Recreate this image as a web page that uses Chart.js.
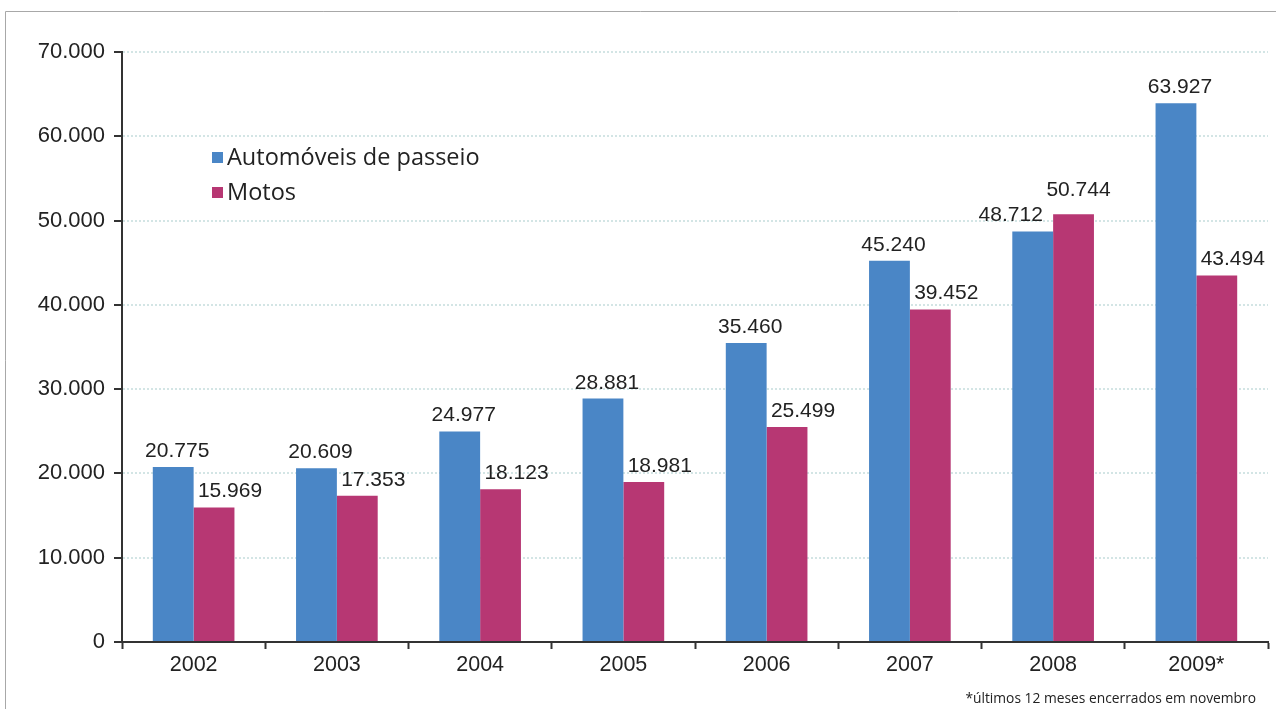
<!DOCTYPE html>
<html><head><meta charset="utf-8">
<script src="https://cdn.jsdelivr.net/npm/chart.js@4/dist/chart.umd.min.js"></script>
<style>html,body{margin:0;padding:0;background:#fff;}#wrap{position:relative;width:1276px;height:709px;}</style>
</head><body><div id="wrap"><canvas id="c" width="1276" height="709"></canvas></div>
<script>
const categories = ['2002','2003','2004','2005','2006','2007','2008','2009*'];
const autoValues = [20775, 20609, 24977, 28881, 35460, 45240, 48712, 63927];
const motoValues = [15969, 17353, 18123, 18981, 25499, 39452, 50744, 43494];
const yTicks = [0,10000,20000,30000,40000,50000,60000,70000];
const seriesNames = ['Automóveis de passeio','Motos'];
const footnote = '*últimos 12 meses encerrados em novembro';

function fmt(v){return String(v).replace(/\B(?=(\d{3})+(?!\d))/g,'.');}

const colors = ['#4a86c6','#b73773'];
const labelDx = [4, 16];

const decor = {
  id:'decor',
  beforeDraw(chart){
    const ctx = chart.ctx;
    ctx.save();
    ctx.strokeStyle='#a8a8a8'; ctx.lineWidth=1;
    ctx.beginPath(); ctx.moveTo(5.5,709); ctx.lineTo(5.5,11.5); ctx.lineTo(1276,11.5); ctx.stroke();
    ctx.restore();
  },
  afterDatasetsDraw(chart){
    const ctx = chart.ctx;
    ctx.save();
    ctx.font = '21px "Liberation Sans", Arial, sans-serif';
    ctx.fillStyle = '#222';
    ctx.textAlign='center'; ctx.textBaseline='alphabetic';
    const m0 = chart.getDatasetMeta(0).data, m1 = chart.getDatasetMeta(1).data;
    m0.forEach((b0,j)=>{
      const b1 = m1[j];
      const crowded = Math.abs(b0.y - b1.y) < 22;
      const dx0 = crowded ? -22 : labelDx[0];
      const dx1 = crowded ? 5 : labelDx[1];
      ctx.fillText(fmt(chart.data.datasets[0].data[j]), b0.x + dx0, b0.y - 10);
      ctx.fillText(fmt(chart.data.datasets[1].data[j]), b1.x + dx1, b1.y - (crowded ? 18 : 10));
    });
    // legend
    ctx.font = '23.5px "Open Sans", "Noto Sans", sans-serif';
    ctx.textAlign='left'; ctx.textBaseline='middle';
    chart.data.datasets.forEach((ds,i)=>{
      const y = 158 + i*35;
      ctx.fillStyle = ds.backgroundColor;
      ctx.fillRect(212, y-6, 11, 11);
      ctx.fillStyle = '#222';
      ctx.fillText(ds.label, 227, y);
    });
    // footnote
    ctx.font = '13.8px "Open Sans", "Noto Sans", sans-serif';
    ctx.textAlign='right'; ctx.textBaseline='alphabetic';
    ctx.fillStyle='#222';
    ctx.fillText(footnote, 1256, 703);
    ctx.restore();
  }
};

new Chart(document.getElementById('c'), {
  type:'bar',
  data:{
    labels: categories,
    datasets:[
      {label:seriesNames[0], data:autoValues, backgroundColor:colors[0], borderWidth:0},
      {label:seriesNames[1], data:motoValues, backgroundColor:colors[1], borderWidth:0}
    ]
  },
  options:{
    responsive:false, animation:false, devicePixelRatio:1,
    layout:{padding:{left:0, top:52, right:8, bottom:0}},
    datasets:{bar:{categoryPercentage:0.57, barPercentage:1.0}},
    plugins:{legend:{display:false}, tooltip:{enabled:false}},
    scales:{
      x:{
        offset:true,
        grid:{drawOnChartArea:false, drawTicks:true, tickLength:7, tickColor:'#333', tickWidth:2, offset:true},
        border:{display:true, color:'#333', width:2},
        ticks:{color:'#222', font:{family:'"Liberation Sans", Arial, sans-serif', size:21.5}, padding:3},
        afterFit(s){ s.height = 67; }
      },
      y:{
        min:0, max:70000,
        afterBuildTicks(s){ s.ticks = yTicks.map(v=>({value:v})); },
        grid:{color:'#d3e5e5', lineWidth:2, tickColor:'#333', tickLength:8, tickWidth:2, drawTicks:true},
        border:{display:true, color:'#333', width:2, dash:[2,2]},
        ticks:{color:'#222', font:{family:'"Liberation Sans", Arial, sans-serif', size:22}, padding:9, callback:(v)=>fmt(v)},
        afterFit(s){ s.width = 122; }
      }
    }
  },
  plugins:[decor]
});
</script></body></html>
